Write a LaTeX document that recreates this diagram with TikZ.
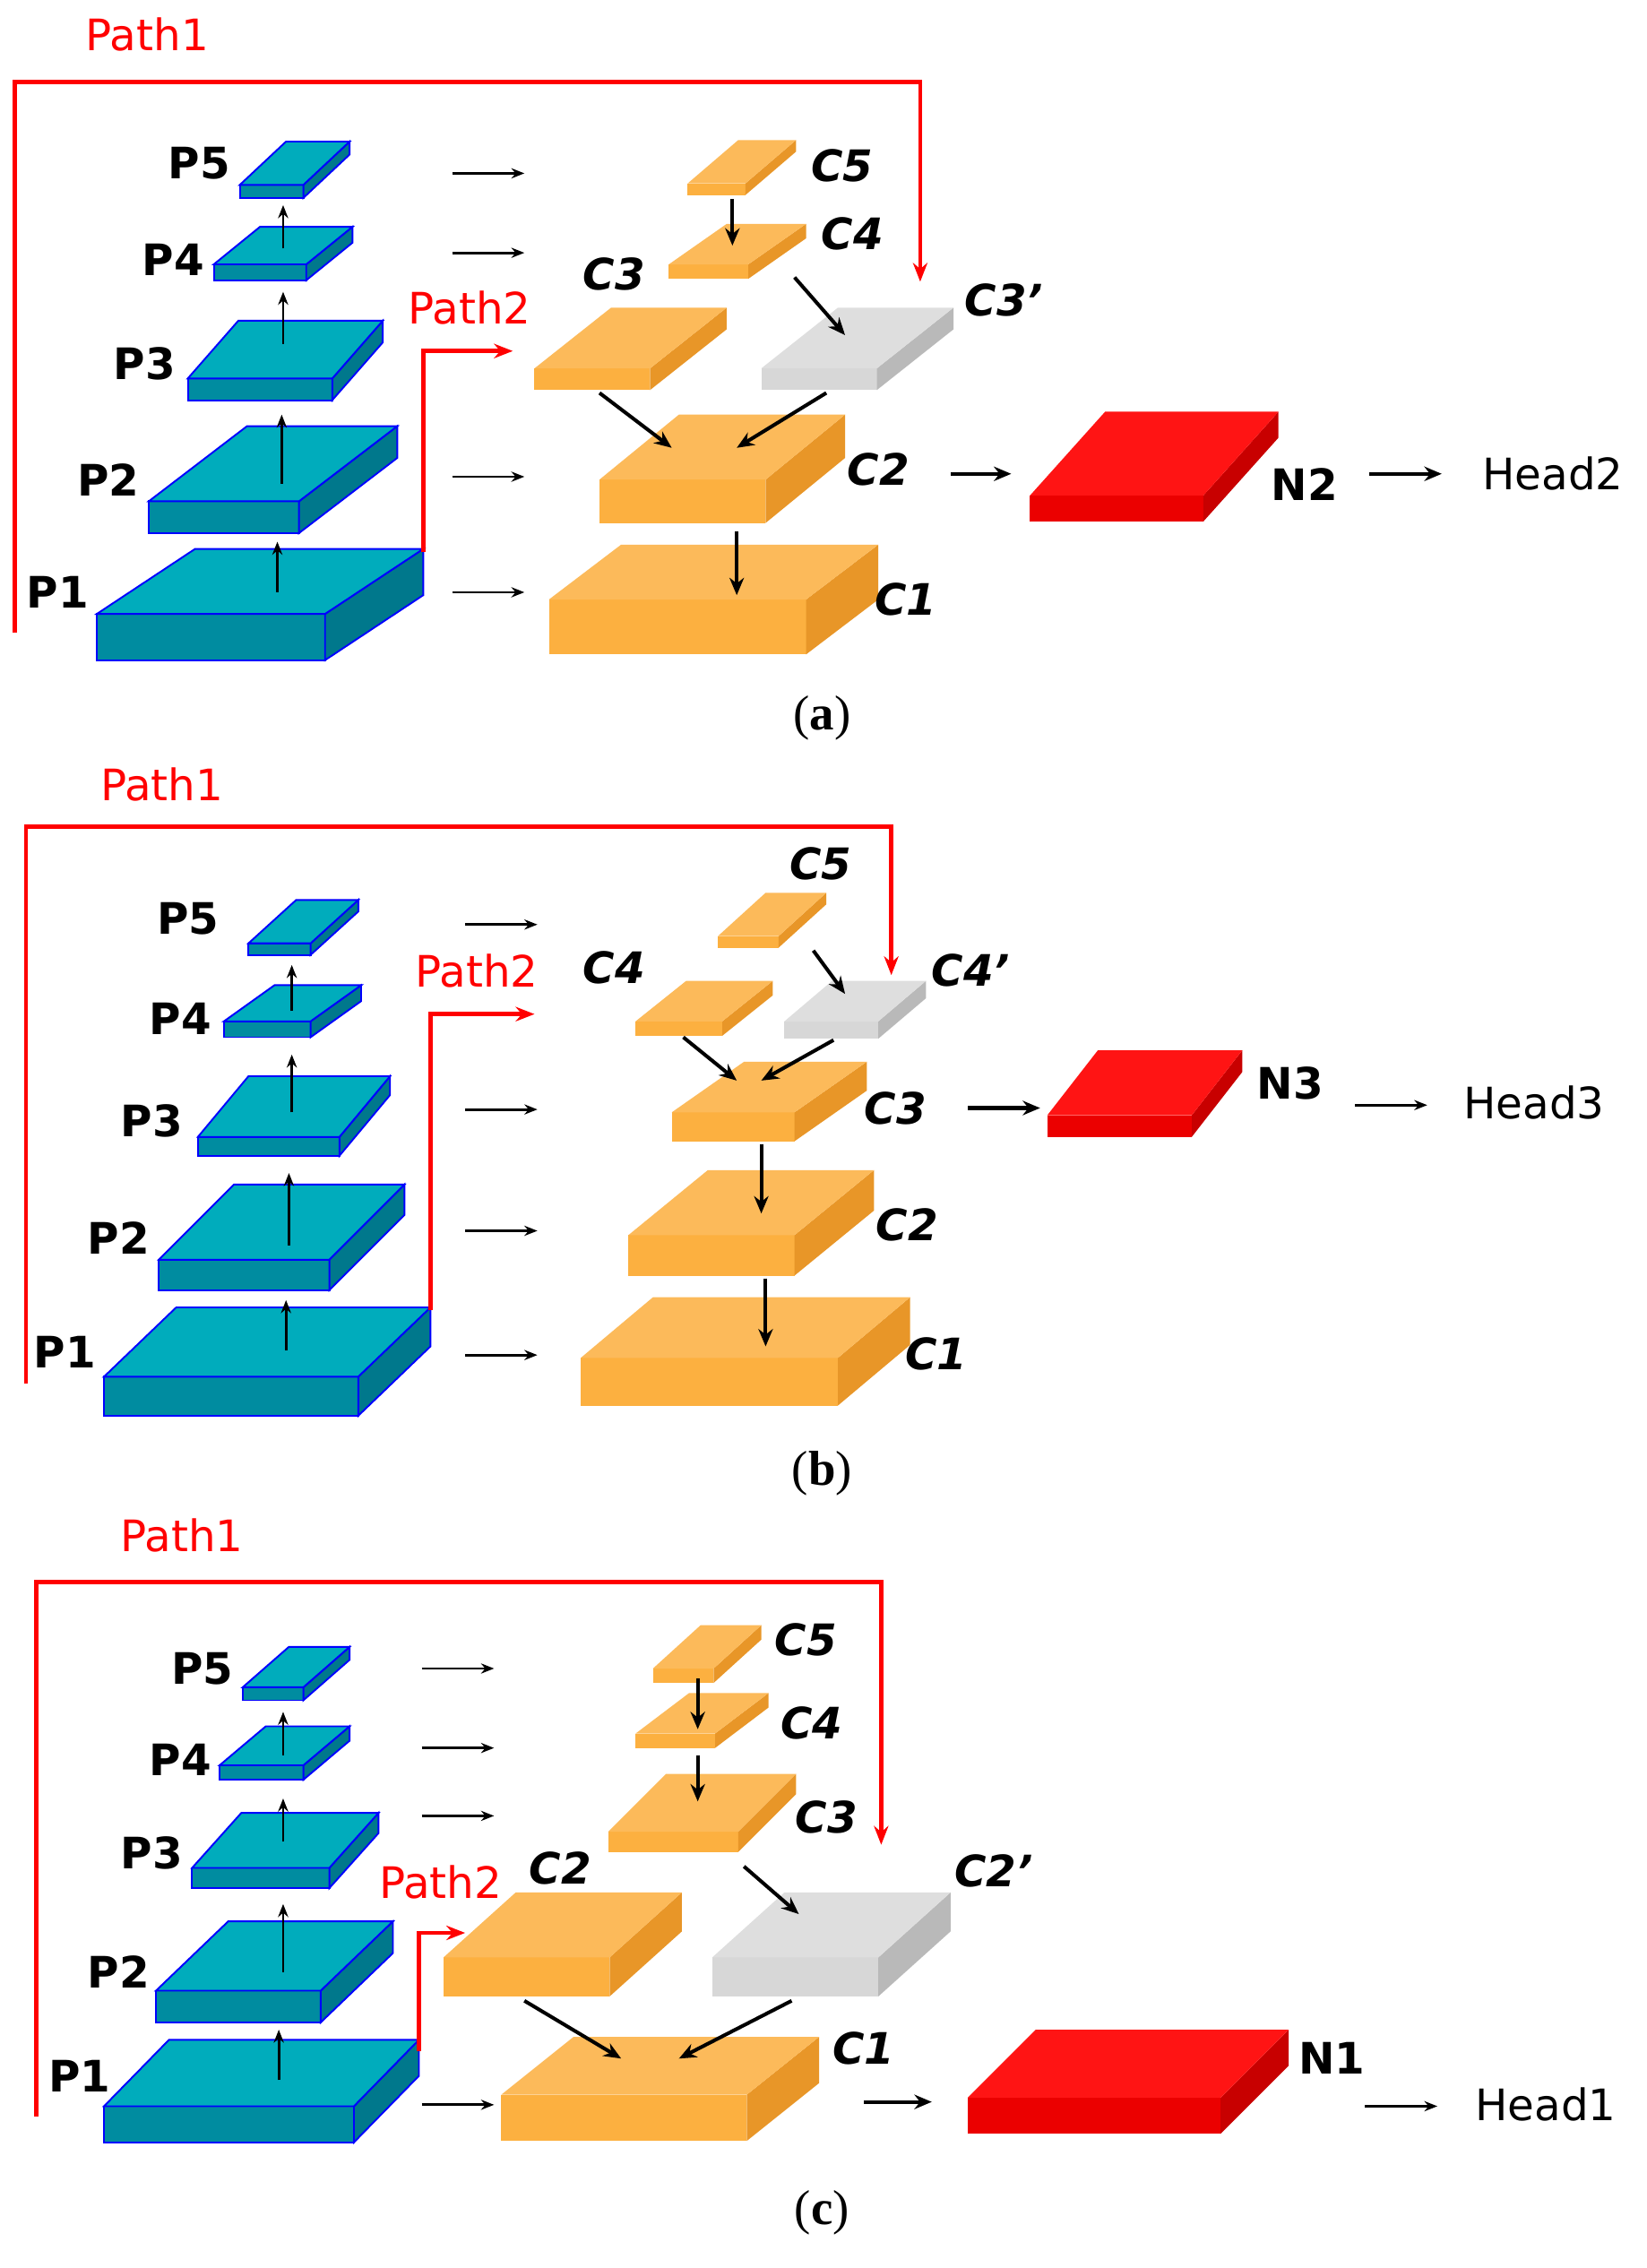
\documentclass[tikz,border=0pt]{standalone}
\usepackage{fontspec}
\setmainfont{DejaVu Sans}
\newfontfamily\capf{Liberation Serif}
\usetikzlibrary{arrows.meta}
\definecolor{tT}{RGB}{0,172,188}\definecolor{tF}{RGB}{0,140,160}\definecolor{tS}{RGB}{0,120,140}
\definecolor{oT}{RGB}{252,186,90}\definecolor{oF}{RGB}{252,176,64}\definecolor{oS}{RGB}{232,150,40}
\definecolor{gT}{RGB}{222,222,222}\definecolor{gF}{RGB}{215,215,215}\definecolor{gS}{RGB}{185,185,185}
\definecolor{rT}{RGB}{255,20,20}\definecolor{rF}{RGB}{235,0,0}\definecolor{rS}{RGB}{200,0,0}
\tikzset{
 tealtop/.style={fill=tT,draw=blue,line width=1.2pt},tealfront/.style={fill=tF,draw=blue,line width=1.2pt},tealside/.style={fill=tS,draw=blue,line width=1.2pt},
 orgtop/.style={fill=oT},orgfront/.style={fill=oF},orgside/.style={fill=oS},
 gratop/.style={fill=gT},grafront/.style={fill=gF},graside/.style={fill=gS},
 redtop/.style={fill=rT},redfront/.style={fill=rF},redside/.style={fill=rS},
 lab/.style={font=\fontsize{30}{34}\selectfont\bfseries,inner sep=0},
 clab/.style={font=\fontsize{30}{34}\selectfont\bfseries\itshape,inner sep=0},
 red lab/.style={font=\fontsize{30}{34}\selectfont,text=red,inner sep=0},
 head/.style={font=\fontsize{30}{34}\selectfont,inner sep=0},
 captxt/.style={font=\fontsize{34}{38}\selectfont\capf,inner sep=0},
 parr/.style={-{Stealth[length=9pt,width=7pt]},line width=1.8pt},
 carr/.style={-{Stealth[length=12pt,width=10pt]},line width=2.5pt},
 rarr/.style={-{Stealth[length=13pt,width=10pt]},line width=3pt,red},
}
% x y w h dx dy kind
\newcommand\slab[7]{%
 \path[#7front] (#1,#2) rectangle ++(#3,#4);
 \path[#7side] (#1+#3,#2) -- ++(#5,-#6) -- ++(0,#4) -- ++(-#5,#6) -- cycle;
 \path[#7top] (#1,#2) -- ++(#5,-#6) -- ++(#3,0) -- ++(-#5,#6) -- cycle;}
\begin{document}
\begin{tikzpicture}[x=1pt,y=-1pt]
\useasboundingbox (0,0) rectangle (1140,1570);
% ---------- (a)
\slab{67}{425}{158}{32}{68}{45}{teal}
\slab{103}{347}{104}{22}{68}{52}{teal}
\slab{130}{262}{100}{15}{35}{40}{teal}
\slab{148}{183}{64}{11}{32}{26}{teal}
\slab{166}{128}{44}{9}{32}{30}{teal}
\slab{380}{415}{178}{38}{50}{38}{org}
\slab{415}{332}{115}{30}{55}{45}{org}
\slab{370}{255}{80}{15}{53}{42}{org}
\slab{527}{255}{80}{15}{53}{42}{gra}
\slab{463}{183}{55}{10}{40}{28}{org}
\slab{476}{127}{40}{8}{35}{30}{org}
\slab{713}{343}{120}{18}{52}{58}{red}
\foreach \y in {120,175,330,410} \draw[parr] (313,\y) -- (363,\y);
\draw[parr] (192,410) -- (192,375); \draw[parr] (195,335) -- (195,287);
\draw[parr] (196,238) -- (196,202); \draw[parr] (196,172) -- (196,142);
\draw[carr] (507,138) -- (507,170); \draw[carr] (550,192) -- (585,232);
\draw[carr] (415,272) -- (465,310); \draw[carr] (572,272) -- (510,310);
\draw[carr] (510,368) -- (510,412); \draw[carr] (658,328) -- (700,328);
\draw[carr] (948,328) -- (998,328);
\node[head] (h2) at (1075,328) {Head2};
\draw[rarr] (10,438) -- (10,57) -- (637,57) -- (637,195);
\draw[rarr] (293,382) -- (293,243) -- (355,243);
\node[red lab] (pa1) at (102,24) {Path1}; \node[red lab] (pa2) at (325,213) {Path2};
\node[lab] at (138,113) {P5};\node[lab] at (120,180) {P4};\node[lab] at (100,252) {P3};
\node[lab] at (75,332) {P2};\node[lab] at (40,410) {P1};
\node[clab] at (583,115) {C5};\node[clab] at (590,162) {C4};\node[clab] at (425,190) {C3};
\node[clab] at (695,208) {C3'};\node[clab] at (608,325) {C2};\node[clab] at (627,415) {C1};
\node[lab] at (903,335) {N2};
\node[captxt] at (569,497) {(\textbf{a})};
% ---------- (b)
\slab{72}{953}{176}{27}{50}{48}{teal}
\slab{110}{872}{118}{21}{52}{52}{teal}
\slab{137}{787}{98}{13}{35}{42}{teal}
\slab{155}{707}{60}{11}{35}{25}{teal}
\slab{172}{653}{43}{8}{33}{30}{teal}
\slab{402}{940}{178}{33}{50}{42}{org}
\slab{435}{855}{115}{28}{55}{45}{org}
\slab{465}{770}{85}{20}{50}{35}{org}
\slab{440}{707}{60}{10}{35}{28}{org}
\slab{543}{707}{65}{12}{33}{28}{gra}
\slab{497}{648}{42}{8}{33}{30}{org}
\slab{725}{772}{100}{15}{35}{45}{red}
\foreach \y in {640,768,852,938} \draw[parr] (322,\y) -- (372,\y);
\draw[parr] (198,935) -- (198,900); \draw[parr] (200,862) -- (200,812);
\draw[parr] (202,770) -- (202,730); \draw[parr] (202,700) -- (202,668);
\draw[carr] (563,658) -- (585,688); \draw[carr] (473,718) -- (510,748);
\draw[carr] (577,720) -- (527,748); \draw[carr] (527,792) -- (527,840);
\draw[carr] (530,885) -- (530,932); \draw[carr] (670,767) -- (720,767);
\draw[parr] (938,765) -- (988,765);
\node[head] (h3) at (1062,763) {Head3};
\draw[rarr] (18,958) -- (18,572) -- (617,572) -- (617,675);
\draw[rarr] (298,907) -- (298,702) -- (370,702);
\node[red lab] at (112,543) {Path1}; \node[red lab] at (330,672) {Path2};
\node[lab] at (130,636) {P5};\node[lab] at (125,705) {P4};\node[lab] at (105,776) {P3};
\node[lab] at (82,857) {P2};\node[lab] at (45,936) {P1};
\node[clab] at (568,598) {C5};\node[clab] at (425,670) {C4};\node[clab] at (672,672) {C4'};
\node[clab] at (620,767) {C3};\node[clab] at (628,848) {C2};\node[clab] at (648,937) {C1};
\node[lab] at (893,750) {N3};
\node[captxt] at (569,1020) {(\textbf{b})};
% ---------- (c)
\slab{72}{1458}{173}{25}{45}{46}{teal}
\slab{108}{1378}{114}{22}{50}{48}{teal}
\slab{133}{1293}{95}{14}{34}{38}{teal}
\slab{152}{1222}{58}{10}{32}{27}{teal}
\slab{168}{1168}{42}{9}{32}{28}{teal}
\slab{347}{1450}{170}{32}{50}{40}{org}
\slab{307}{1355}{115}{27}{50}{45}{org}
\slab{493}{1355}{115}{27}{50}{45}{gra}
\slab{421}{1268}{90}{14}{40}{40}{org}
\slab{440}{1200}{55}{10}{37}{28}{org}
\slab{452}{1155}{42}{10}{33}{30}{org}
\slab{670}{1452}{175}{25}{47}{47}{red}
\foreach \y in {1155,1210,1257,1457} \draw[parr] (292,\y) -- (342,\y);
\draw[parr] (193,1440) -- (193,1405); \draw[parr] (196,1365) -- (196,1318);
\draw[parr] (196,1275) -- (196,1245); \draw[parr] (196,1215) -- (196,1185);
\draw[carr] (483,1162) -- (483,1197); \draw[carr] (483,1215) -- (483,1247);
\draw[carr] (515,1292) -- (553,1325); \draw[carr] (363,1385) -- (430,1425);
\draw[carr] (548,1385) -- (470,1425); \draw[carr] (598,1455) -- (645,1455);
\draw[parr] (945,1458) -- (995,1458);
\node[head] (h1) at (1070,1457) {Head1};
\draw[rarr] (25,1465) -- (25,1095) -- (610,1095) -- (610,1277);
\draw[rarr] (290,1420) -- (290,1338) -- (322,1338);
\node[red lab] at (126,1063) {Path1}; \node[red lab] at (305,1303) {Path2};
\node[lab] at (140,1155) {P5};\node[lab] at (125,1218) {P4};\node[lab] at (105,1283) {P3};
\node[lab] at (82,1365) {P2};\node[lab] at (55,1437) {P1};
\node[clab] at (558,1135) {C5};\node[clab] at (562,1193) {C4};\node[clab] at (572,1258) {C3};
\node[clab] at (388,1293) {C2};\node[clab] at (688,1295) {C2'};\node[clab] at (598,1418) {C1};
\node[lab] at (922,1425) {N1};
\node[captxt] at (569,1532) {(\textbf{c})};
\end{tikzpicture}
\end{document}
